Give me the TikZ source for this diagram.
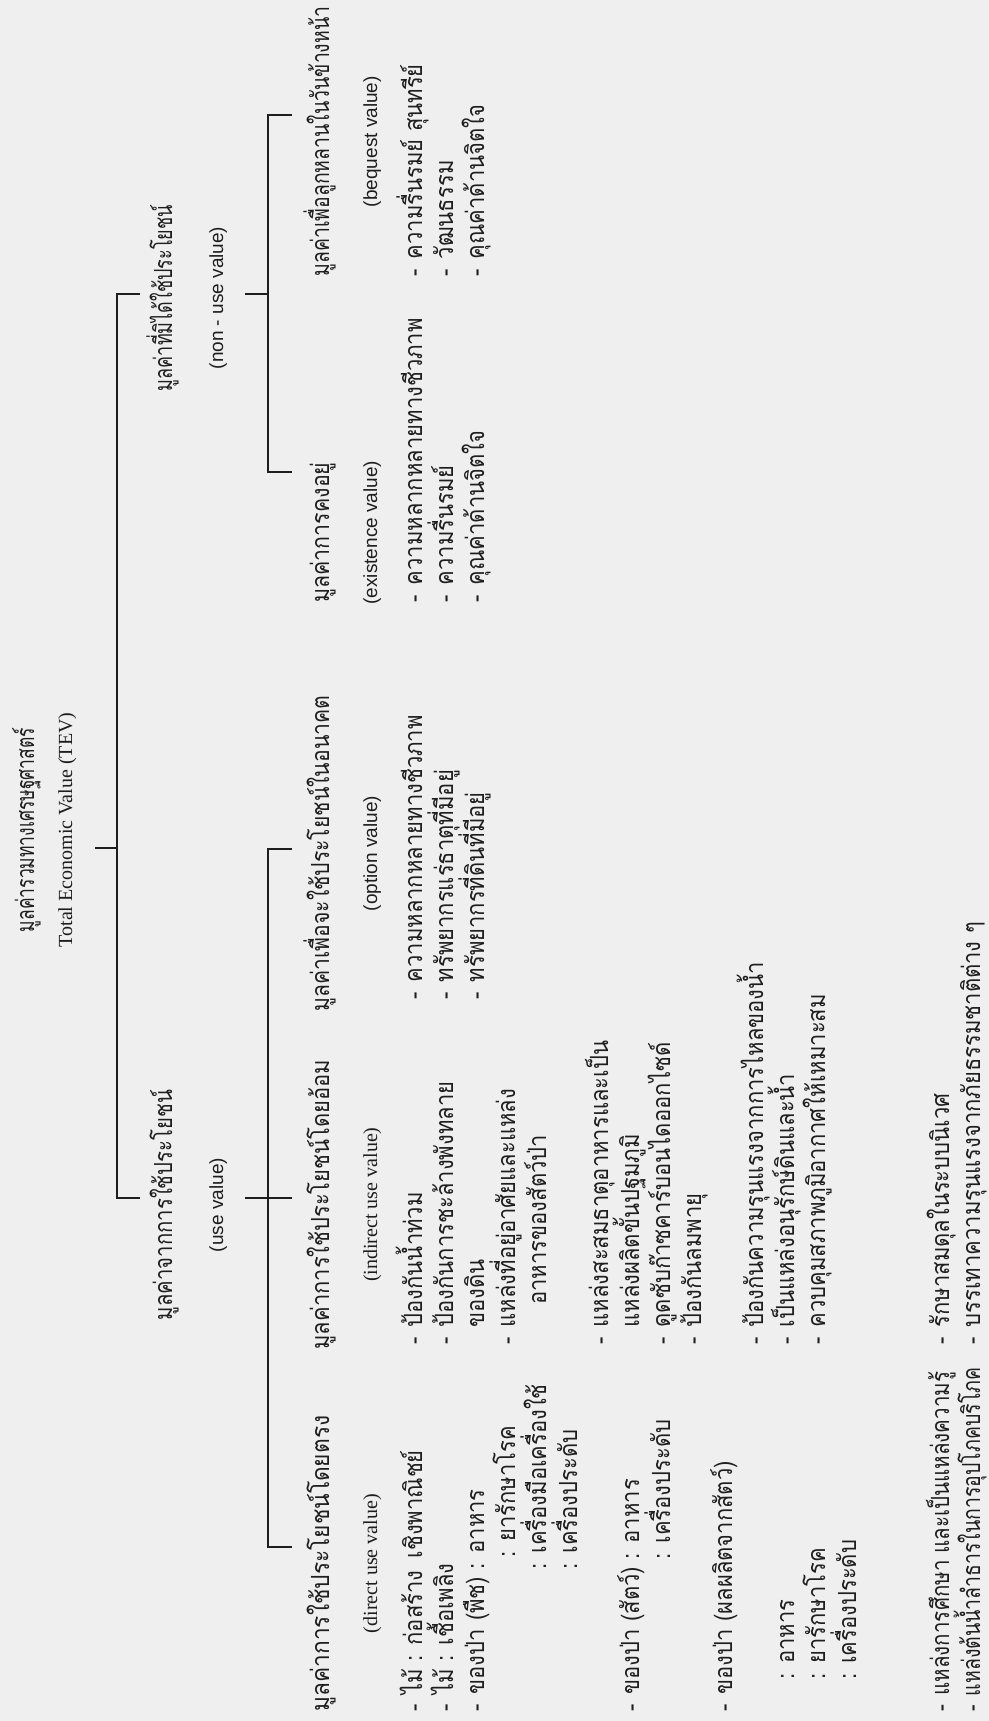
\documentclass[tikz,border=0pt]{standalone}
\usepackage{fontspec}
\usepackage{graphicx}
\setmainfont{Liberation Serif}
\newfontfamily\thai[Script=Thai,FakeStretch=0.88]{Loma}
\newfontfamily\sansen{Liberation Sans}
\usetikzlibrary{calc}
\definecolor{ink}{HTML}{1E1E1E}
\definecolor{paper}{HTML}{EFEFEF}
\newcommand\dd{-\hspace{5pt}}
\newcommand\rowx[1]{422+31*#1}
\newcommand\fitto[2]{\resizebox{#1}{\height}{#2}}
\tikzset{
  th/.style={rotate=90, inner sep=0pt, text=ink, font=\thai\fontsize{12.5}{14}\selectfont},
  en/.style={rotate=90, inner sep=0pt, text=ink, font=\fontsize{10}{12}\selectfont},
  sn/.style={rotate=90, inner sep=0pt, text=ink, font=\sansen\fontsize{9.5}{11}\selectfont},
  it/.style={th, anchor=base west},
  ln/.style={draw=ink, line width=1pt},
}
\begin{document}
\begin{tikzpicture}[x=0.5pt,y=-0.5pt]
\fill[paper] (0,0) rectangle (989,1721);
\useasboundingbox (0,0) rectangle (989,1721);

% ---- root
\node[th, anchor=base] (title) at (34,830) {\fitto{102pt}{มูลค่ารวมทางเศรษฐศาสตร์}};
\node[en, anchor=base] (tev) at (72,830) {Total Economic Value (TEV)};

% ---- level 1
\node[th, anchor=base] (nonuse) at (172,298) {\fitto{93pt}{มูลค่าที่มิได้ใช้ประโยชน์}};
\node[sn, anchor=base] (nonusesub) at (223,298) {(non - use value)};
\node[th, anchor=base] (use) at (172,1205) {\fitto{115pt}{มูลค่าจากการใช้ประโยชน์}};
\node[sn, anchor=base] (usesub) at (223,1205) {(use value)};

% ---- level 2 labels
\node[th, anchor=base west] (beq) at (329,277) {\fitto{135pt}{มูลค่าเพื่อลูกหลานในวันข้างหน้า}};
\node[th, anchor=base west] (exi) at (329,603) {\fitto{70pt}{มูลค่าการคงอยู่}};
\node[th, anchor=base west] (opt) at (329,1012) {\fitto{158pt}{มูลค่าเพื่อจะใช้ประโยชน์ในอนาคต}};
\node[th, anchor=base west] (ind) at (329,1350) {\fitto{145pt}{มูลค่าการใช้ประโยชน์โดยอ้อม}};
\node[th, anchor=base west] (dir) at (329,1712) {\fitto{148pt}{มูลค่าการใช้ประโยชน์โดยตรง}};

\node[sn, anchor=base] (beqsub) at ($(beq.base)+(48,0)$) {(bequest value)};
\node[sn, anchor=base] (exisub) at ($(exi.base)+(48,0)$) {(existence value)};
\node[sn, anchor=base] (optsub) at ($(opt.base)+(48,0)$) {(option value)};
\node[en, anchor=base] (indsub) at ($(ind.base)+(48,0)$) {(indirect use value)};
\node[en, anchor=base] (dirsub) at ($(dir.base)+(48,0)$) {(direct use value)};

% ---- bequest items
\node[it] (b1) at ({\rowx{0}},277) {\dd ความรื่นรมย์ สุนทรีย์};
\node[it] (b2) at ({\rowx{1}},277) {\dd วัฒนธรรม};
\node[it] (b3) at ({\rowx{2}},277) {\dd คุณค่าด้านจิตใจ};
% ---- existence items
\node[it] (e1) at ({\rowx{0}},603) {\dd ความหลากหลายทางชีวภาพ};
\node[it] (e2) at ({\rowx{1}},603) {\dd ความรื่นรมย์};
\node[it] (e3) at ({\rowx{2}},603) {\dd คุณค่าด้านจิตใจ};
% ---- option items
\node[it] (o1) at ({\rowx{0}},1000) {\dd ความหลากหลายทางชีวภาพ};
\node[it] (o2) at ({\rowx{1}},1000) {\dd ทรัพยากรแร่ธาตุที่มีอยู่};
\node[it] (o3) at ({\rowx{2}},1000) {\dd ทรัพยากรที่ดินที่มีอยู่};
% ---- indirect items
\node[it] (i1) at ({\rowx{0}},1345) {\dd ป้องกันน้ำท่วม};
\node[it] (i2) at ({\rowx{1}},1345) {\dd ป้องกันการชะล้างพังทลาย};
\node[it] (i3) at ({\rowx{2}},1345) {\phantom{\dd}ของดิน};
\node[it] (i4) at ({\rowx{3}},1345) {\dd แหล่งที่อยู่อาศัยและแหล่ง};
\node[it] (i5) at ({\rowx{4}},1345) {\hspace{20pt}อาหารของสัตว์ป่า};
\node[it] (i6) at ({\rowx{6}},1345) {\dd แหล่งสะสมธาตุอาหารและเป็น};
\node[it] (i7) at ({\rowx{7}},1345) {\phantom{\dd}แหล่งผลิตขั้นปฐมภูมิ};
\node[it] (i8) at ({\rowx{8}},1345) {\dd ดูดซับก๊าซคาร์บอนไดออกไซด์};
\node[it] (i9) at ({\rowx{9}},1345) {\dd ป้องกันลมพายุ};
\node[it] (i10) at ({\rowx{11}},1345) {\dd ป้องกันความรุนแรงจากการไหลของน้ำ};
\node[it] (i11) at ({\rowx{12}},1345) {\dd เป็นแหล่งอนุรักษ์ดินและน้ำ};
\node[it] (i12) at ({\rowx{13}},1345) {\dd ควบคุมสภาพภูมิอากาศให้เหมาะสม};
\node[it] (i13) at ({\rowx{17}},1345) {\dd รักษาสมดุลในระบบนิเวศ};
\node[it] (i14) at ({\rowx{18}},1345) {\dd บรรเทาความรุนแรงจากภัยธรรมชาติต่าง ๆ};
% ---- direct items
\node[it] (d1) at ({\rowx{0}},1712) {\dd ไม้ : ก่อสร้าง\hspace{6pt}เชิงพาณิชย์};
\node[it] (d2) at ({\rowx{1}},1712) {\dd ไม้ : เชื้อเพลิง};
\node[it] (d3) at ({\rowx{2}},1712) {\dd ของป่า\hspace{4pt}(พืช) : อาหาร};
\node[it] (d4) at ({\rowx{3}},1712) {\phantom{\dd ของป่า\hspace{4pt}(พืช) }\hspace{6pt}: ยารักษาโรค};
\node[it] (d5) at ({\rowx{4}},1712) {\phantom{\dd ของป่า\hspace{4pt}(พืช) }: เครื่องมือเครื่องใช้};
\node[it] (d6) at ({\rowx{5}},1712) {\phantom{\dd ของป่า\hspace{4pt}(พืช) }: เครื่องประดับ};
\node[it] (d7) at ({\rowx{7}},1712) {\dd ของป่า (สัตว์) : อาหาร};
\node[it] (d8) at ({\rowx{8}},1712) {\phantom{\dd ของป่า (สัตว์) }: เครื่องประดับ};
\node[it] (d9) at ({\rowx{10}},1712) {\dd ของป่า (ผลผลิตจากสัตว์)};
\node[it] (d10) at ({\rowx{12}},1712) {\hspace{16pt}: อาหาร};
\node[it] (d11) at ({\rowx{13}},1712) {\hspace{16pt}: ยารักษาโรค};
\node[it] (d12) at ({\rowx{14}},1712) {\hspace{16pt}: เครื่องประดับ};
\node[it] (d13) at ({\rowx{17}},1712) {\fitto{170pt}{\dd แหล่งการศึกษา และเป็นแหล่งความรู้}};
\node[it] (d14) at ({\rowx{18}},1712) {\fitto{172pt}{\dd แหล่งต้นน้ำลำธารในการอุปโภคบริโภค}};

% ---- connector coordinates
\coordinate (tevL) at (95,848);
\coordinate (tevR) at (117,848);
\coordinate (mT) at (117,294);
\coordinate (mTr) at (140,294);
\coordinate (mB) at (117,1198);
\coordinate (mBr) at (140,1198);
\coordinate (nuL) at (245,294);
\coordinate (nuR) at (268,294);
\coordinate (nuT) at (268,115);
\coordinate (nuTr) at (292,115);
\coordinate (nuB) at (268,472);
\coordinate (nuBr) at (292,472);
\coordinate (uL) at (245,1198);
\coordinate (uMr) at (292,1198);
\coordinate (uT) at (268,849);
\coordinate (uTr) at (292,849);
\coordinate (uB) at (268,1547);
\coordinate (uBr) at (292,1547);

\draw[ln] (tevL) -- (tevR);
\draw[ln] (mTr) -- (mT) -- (mB) -- (mBr);
\draw[ln] (nuL) -- (nuR);
\draw[ln] (nuTr) -- (nuT) -- (nuB) -- (nuBr);
\draw[ln] (uL) -- (uMr);
\draw[ln] (uTr) -- (uT) -- (uB) -- (uBr);
\end{tikzpicture}
\end{document}
